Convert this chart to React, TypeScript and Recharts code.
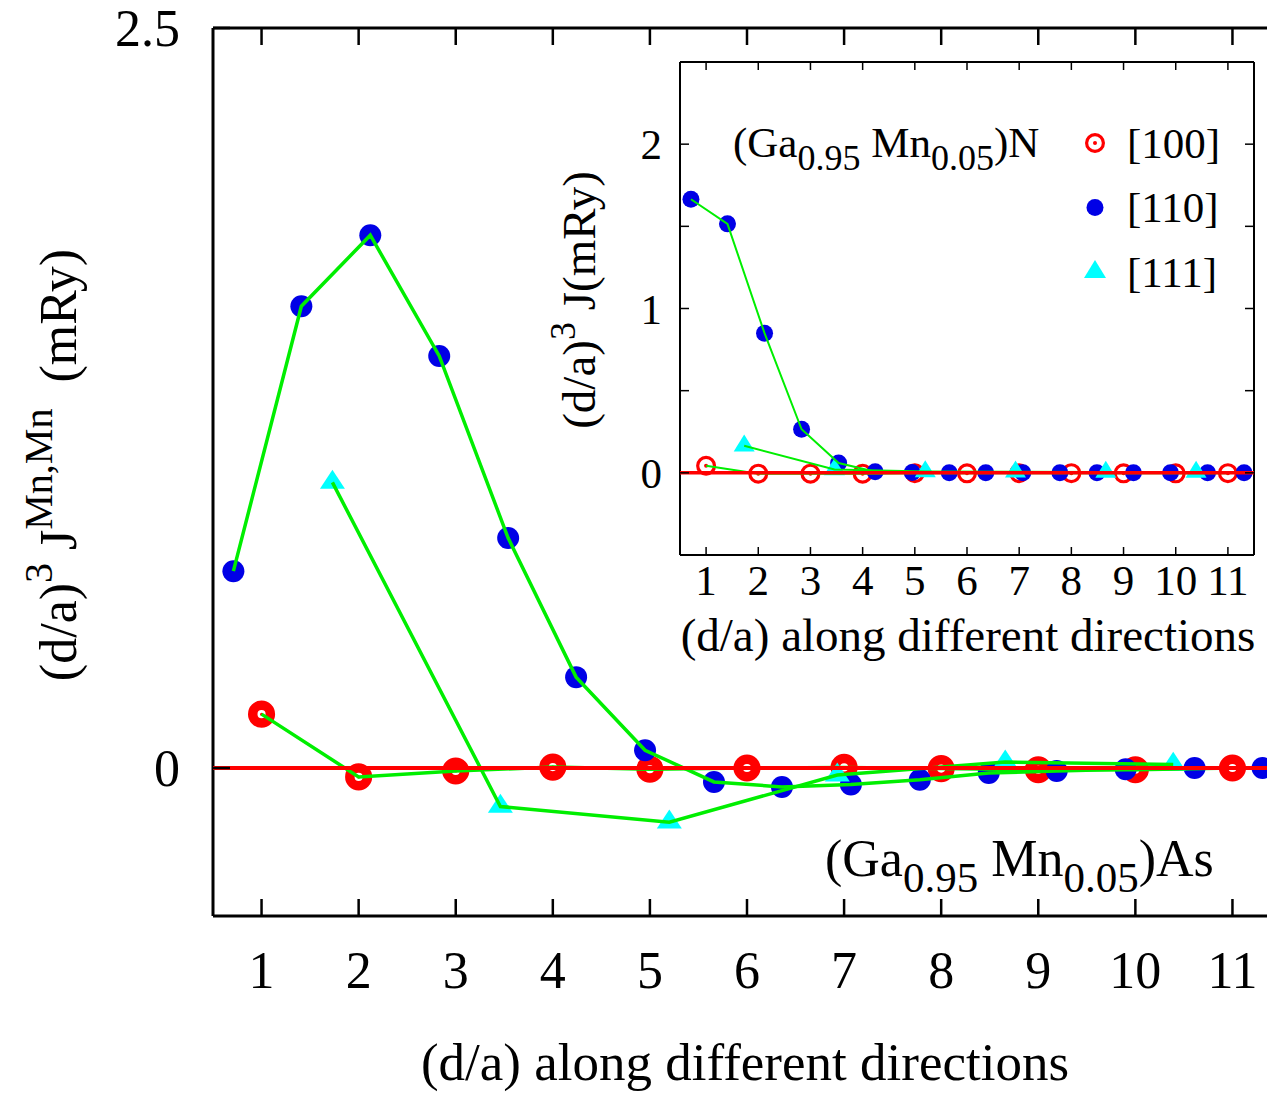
import React from "react";
import { ComposedChart, Scatter, XAxis, YAxis, Legend } from "recharts";

const SERIF = "'Liberation Serif', 'Times New Roman', serif";
const RED = "#ff0000";
const BLUE = "#0000e6";
const CYAN = "#00ffff";
const GREEN = "#00ee00";

// d/a positions along each direction
const d100 = [1, 2, 3, 4, 5, 6, 7, 8, 9, 10, 11];
const d110 = [0.71, 1.41, 2.12, 2.83, 3.54, 4.24, 4.95, 5.66, 6.36, 7.07, 7.78, 8.49, 9.19, 9.9, 10.61, 11.31];
const d111 = [1.73, 3.46, 5.2, 6.93, 8.66, 10.39];

// (Ga0.95Mn0.05)As - main panel, (d/a)^3 J in mRy
const as100 = [0.182, -0.03, -0.01, 0.003, -0.004, 0.0, 0.002, -0.002, -0.006, -0.006, 0.0];
const as110 = [0.665, 1.56, 1.8, 1.392, 0.777, 0.307, 0.06, -0.047, -0.064, -0.056, -0.04, -0.017, -0.01, -0.004, 0.0, 0.0];
const as111 = [0.965, -0.13, -0.183, -0.024, 0.02, 0.012];

// (Ga0.95Mn0.05)N - inset
const n100 = [0.043, -0.005, -0.005, -0.005, -0.002, -0.003, -0.002, -0.002, -0.003, -0.003, -0.002];
const n110 = [1.665, 1.515, 0.85, 0.265, 0.06, 0.007, 0.002, 0.001, 0.0, 0.0, 0.0, 0.0, 0.0, 0.0, 0.0, 0.0];
const n111 = [0.165, 0.02, 0.008, 0.006, 0.005, 0.004];

const xTicks = [1, 2, 3, 4, 5, 6, 7, 8, 9, 10, 11];
const mainYTicks = [0, 2.5];
const insetYTicks = [-0.5, 0, 0.5, 1, 1.5, 2, 2.5];
const insetYLabels = [0, 1, 2];
const xRange = [0.5, 11.5];

const pts = (d: number[], j: number[]) => d.map((x, i) => ({ x, y: j[i] }));
const zeroLine = xRange.map((x) => ({ x, y: 0 }));

// markers
const ring = (r: number, w: number, dot: number) => (p: any) => (
  <g>
    <circle cx={p.cx} cy={p.cy} r={r} fill="none" stroke={RED} strokeWidth={w} />
    <circle cx={p.cx} cy={p.cy} r={dot} fill={RED} />
  </g>
);
const dot = (r: number) => (p: any) => <circle cx={p.cx} cy={p.cy} r={r} fill={BLUE} />;
const tri = (w: number, h: number) => (p: any) => (
  <polygon
    points={`${p.cx},${p.cy - (2 * h) / 3} ${p.cx - w / 2},${p.cy + h / 3} ${p.cx + w / 2},${p.cy + h / 3}`}
    fill={CYAN}
  />
);
const none = () => <g />;

// ticks for the main panel
const mainBottomTick = (p: any) => (
  <g>
    <line x1={p.x} x2={p.x} y1={p.y} y2={p.y - 17} stroke="#000" strokeWidth={2.5} />
    <text x={p.x} y={p.y + 72} textAnchor="middle" fontSize={52} fontFamily={SERIF}>
      {p.payload.value}
    </text>
  </g>
);
const mainTopTick = (p: any) => (
  <line x1={p.x} x2={p.x} y1={p.y} y2={p.y + 17} stroke="#000" strokeWidth={2.5} />
);
const mainLeftTick = (p: any) => (
  <g>
    <line x1={p.x} x2={p.x + 17} y1={p.y} y2={p.y} stroke="#000" strokeWidth={2.5} />
    <text x={p.x - 33} y={p.y + 18} textAnchor="end" fontSize={52} fontFamily={SERIF}>
      {p.payload.value}
    </text>
  </g>
);

// ticks for the inset
const insetBottomTick = (p: any) => (
  <g>
    <line x1={p.x} x2={p.x} y1={p.y} y2={p.y - 8} stroke="#000" strokeWidth={1.5} />
    <text x={p.x} y={p.y + 40} textAnchor="middle" fontSize={43} fontFamily={SERIF}>
      {p.payload.value}
    </text>
  </g>
);
const insetTopTick = (p: any) => (
  <line x1={p.x} x2={p.x} y1={p.y} y2={p.y + 8} stroke="#000" strokeWidth={1.5} />
);
const insetLeftTick = (p: any) => (
  <g>
    <line x1={p.x} x2={p.x + 9} y1={p.y} y2={p.y} stroke="#000" strokeWidth={1.5} />
    {insetYLabels.includes(p.payload.value) && (
      <text x={p.x - 18} y={p.y + 15} textAnchor="end" fontSize={43} fontFamily={SERIF}>
        {p.payload.value}
      </text>
    )}
  </g>
);
const insetRightTick = (p: any) => (
  <line x1={p.x} x2={p.x - 9} y1={p.y} y2={p.y} stroke="#000" strokeWidth={1.5} />
);

const legendItems = [
  { name: "[100]", kind: "ring" },
  { name: "[110]", kind: "dot" },
  { name: "[111]", kind: "tri" },
];

function InsetKey() {
  return (
    <svg width={180} height={200}>
      {legendItems.map((it, i) => {
        const cy = 23 + i * 64.5;
        const cx = 15;
        return (
          <g key={it.name}>
            {it.kind === "ring" && ring(8.4, 3.2, 2)({ cx, cy })}
            {it.kind === "dot" && dot(8.5)({ cx, cy })}
            {it.kind === "tri" && tri(22, 18)({ cx, cy })}
            <text x={47} y={cy + 14.5} fontSize={43} fontFamily={SERIF}>
              {it.name}
            </text>
          </g>
        );
      })}
    </svg>
  );
}

const axisStyle = (w: number) => ({ stroke: "#000", strokeWidth: w });

function MainPanel() {
  return (
    <ComposedChart width={1300} height={1094} margin={{ top: 27, right: 19, bottom: 177, left: 212 }}>
      <XAxis xAxisId="b" type="number" dataKey="x" domain={xRange} ticks={xTicks} interval={0}
        height={1} tickSize={0} tickMargin={0} tickLine={false} axisLine={axisStyle(3)} tick={mainBottomTick} allowDataOverflow />
      <XAxis xAxisId="t" orientation="top" type="number" dataKey="x" domain={xRange} ticks={xTicks} interval={0}
        height={1} tickSize={0} tickMargin={0} tickLine={false} axisLine={axisStyle(3)} tick={mainTopTick} allowDataOverflow />
      <YAxis yAxisId="l" type="number" dataKey="y" domain={[-0.5, 2.5]} ticks={mainYTicks} interval={0}
        width={1} tickSize={0} tickMargin={0} tickLine={false} axisLine={axisStyle(3)} tick={mainLeftTick} allowDataOverflow />
      <Scatter xAxisId="b" yAxisId="l" data={pts(d100, as100)} shape={ring(8.8, 9.5, 1.5)} isAnimationActive={false} />
      <Scatter xAxisId="b" yAxisId="l" data={pts(d110, as110)} shape={dot(11)} isAnimationActive={false} />
      <Scatter xAxisId="b" yAxisId="l" data={pts(d111, as111)} shape={tri(25, 19)} isAnimationActive={false} />
      <Scatter xAxisId="b" yAxisId="l" data={pts(d100, as100)} shape={none} line={{ stroke: GREEN, strokeWidth: 3.5 }} isAnimationActive={false} />
      <Scatter xAxisId="b" yAxisId="l" data={pts(d110, as110)} shape={none} line={{ stroke: GREEN, strokeWidth: 3.5 }} isAnimationActive={false} />
      <Scatter xAxisId="b" yAxisId="l" data={pts(d111, as111)} shape={none} line={{ stroke: GREEN, strokeWidth: 3.5 }} isAnimationActive={false} />
      <Scatter xAxisId="b" yAxisId="l" data={zeroLine} shape={none} line={{ stroke: RED, strokeWidth: 4 }} isAnimationActive={false} />
    </ComposedChart>
  );
}

function InsetPanel() {
  return (
    <ComposedChart width={670} height={640} margin={{ top: 21, right: 15, bottom: 124, left: 79 }}>
      <XAxis xAxisId="b" type="number" dataKey="x" domain={xRange} ticks={xTicks} interval={0}
        height={1} tickSize={0} tickMargin={0} tickLine={false} axisLine={axisStyle(2)} tick={insetBottomTick} allowDataOverflow />
      <XAxis xAxisId="t" orientation="top" type="number" dataKey="x" domain={xRange} ticks={xTicks} interval={0}
        height={1} tickSize={0} tickMargin={0} tickLine={false} axisLine={axisStyle(2)} tick={insetTopTick} allowDataOverflow />
      <YAxis yAxisId="l" type="number" dataKey="y" domain={[-0.5, 2.5]} ticks={insetYTicks} interval={0}
        width={1} tickSize={0} tickMargin={0} tickLine={false} axisLine={axisStyle(2)} tick={insetLeftTick} allowDataOverflow />
      <YAxis yAxisId="r" orientation="right" type="number" dataKey="y" domain={[-0.5, 2.5]} ticks={insetYTicks} interval={0}
        width={1} tickSize={0} tickMargin={0} tickLine={false} axisLine={axisStyle(2)} tick={insetRightTick} allowDataOverflow />
      <Scatter xAxisId="b" yAxisId="l" data={pts(d100, n100)} shape={ring(8.4, 3.2, 2)} isAnimationActive={false} />
      <Scatter xAxisId="b" yAxisId="l" data={pts(d110, n110)} shape={dot(8.5)} isAnimationActive={false} />
      <Scatter xAxisId="b" yAxisId="l" data={pts(d111, n111)} shape={tri(21, 17)} isAnimationActive={false} />
      <Scatter xAxisId="b" yAxisId="l" data={pts(d100, n100)} shape={none} line={{ stroke: GREEN, strokeWidth: 2 }} isAnimationActive={false} />
      <Scatter xAxisId="b" yAxisId="l" data={pts(d110, n110)} shape={none} line={{ stroke: GREEN, strokeWidth: 2 }} isAnimationActive={false} />
      <Scatter xAxisId="b" yAxisId="l" data={pts(d111, n111)} shape={none} line={{ stroke: GREEN, strokeWidth: 2 }} isAnimationActive={false} />
      <Scatter xAxisId="b" yAxisId="l" data={zeroLine} shape={none} line={{ stroke: RED, strokeWidth: 3.5 }} isAnimationActive={false} />
      <Legend layout="vertical" align="center" verticalAlign="middle" content={() => <InsetKey />}
        wrapperStyle={{ position: "absolute", left: 480, top: 80, width: 180, height: 200 }} />
    </ComposedChart>
  );
}

function Labels() {
  return (
    <svg width={1267} height={1094} style={{ position: "absolute", left: 0, top: 0, pointerEvents: "none" }}
      fontFamily={SERIF}>
      <text x={745} y={1080} textAnchor="middle" fontSize={53}>(d/a) along different directions</text>
      <text transform="translate(76,465) rotate(-90)" textAnchor="middle" fontSize={52} style={{ whiteSpace: "pre" }}>
        (d/a)<tspan dy={-24} fontSize={40}>3</tspan>
        <tspan dy={24}> J</tspan>
        <tspan dy={-24} fontSize={40}>Mn,Mn</tspan>
        <tspan dy={24}>  (mRy)</tspan>
      </text>
      <text x={825} y={876} fontSize={52} style={{ whiteSpace: "pre" }}>
        (Ga<tspan dy={16} fontSize={43}>0.95</tspan>
        <tspan dy={-16}> Mn</tspan>
        <tspan dy={16} fontSize={43}>0.05</tspan>
        <tspan dy={-16}>)As</tspan>
      </text>
      <text x={968} y={651} textAnchor="middle" fontSize={47}>(d/a) along different directions</text>
      <text transform="translate(595,300) rotate(-90)" textAnchor="middle" fontSize={47} style={{ whiteSpace: "pre" }}>
        (d/a)<tspan dy={-20} fontSize={36}>3</tspan>
        <tspan dy={20}> J(mRy)</tspan>
      </text>
      <text x={733} y={157} fontSize={43} style={{ whiteSpace: "pre" }}>
        (Ga<tspan dy={13} fontSize={36}>0.95</tspan>
        <tspan dy={-13}> Mn</tspan>
        <tspan dy={13} fontSize={36}>0.05</tspan>
        <tspan dy={-13}>)N</tspan>
      </text>
    </svg>
  );
}

export default function App() {
  return (
    <div style={{ position: "absolute", left: 0, top: 0, width: 1267, height: 1094, overflow: "hidden", background: "#fff" }}>
      <div style={{ position: "absolute", left: 0, top: 0 }}>
        <MainPanel />
      </div>
      <div style={{ position: "absolute", left: 600, top: 40 }}>
        <InsetPanel />
      </div>
      <Labels />
    </div>
  );
}
